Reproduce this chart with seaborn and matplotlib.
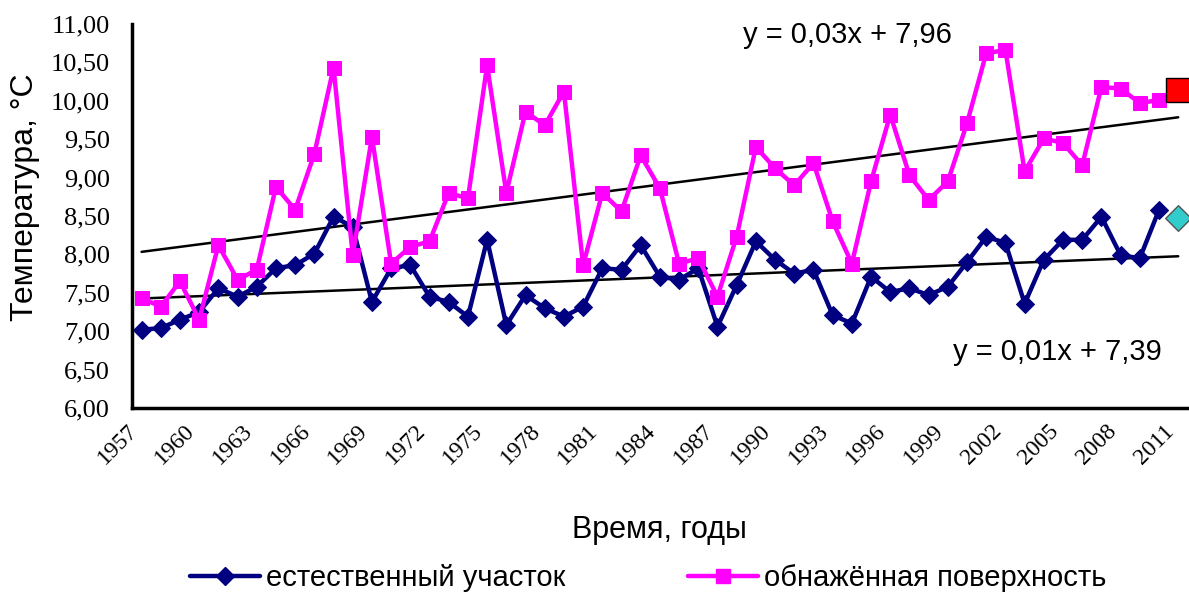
import numpy as np
import pandas as pd
import seaborn as sns
import matplotlib.pyplot as plt
from matplotlib.lines import Line2D

# Data (1957-2010), extra points for 2011
years = list(range(1957, 2011))
natural = [7.02, 7.04, 7.15, 7.25, 7.56, 7.45, 7.58, 7.82, 7.86, 8.01,
           8.49, 8.36, 7.38, 7.82, 7.86, 7.45, 7.38, 7.19, 8.19, 7.08,
           7.47, 7.30, 7.19, 7.32, 7.82, 7.80, 8.12, 7.71, 7.67, 7.82,
           7.06, 7.60, 8.17, 7.93, 7.75, 7.80, 7.21, 7.10, 7.71, 7.51,
           7.56, 7.47, 7.58, 7.90, 8.23, 8.15, 7.36, 7.93, 8.19, 8.19,
           8.49, 7.99, 7.95, 8.58]
bare = [7.43, 7.32, 7.65, 7.15, 8.12, 7.67, 7.80, 8.88, 8.58, 9.31,
        10.43, 7.99, 9.53, 7.88, 8.10, 8.17, 8.80, 8.73, 10.46, 8.80,
        9.86, 9.68, 10.12, 7.86, 8.80, 8.56, 9.29, 8.86, 7.88, 7.95,
        7.45, 8.23, 9.40, 9.12, 8.90, 9.19, 8.43, 7.88, 8.95, 9.82,
        9.03, 8.71, 8.95, 9.71, 10.62, 10.66, 9.08, 9.51, 9.45, 9.16,
        10.18, 10.16, 9.97, 10.01]
last_year = 2011
natural_last = 8.47
bare_last = 10.14

label_natural = 'естественный участок'
label_bare = 'обнажённая поверхность'
eq_bare = 'y = 0,03x + 7,96'
eq_natural = 'y = 0,01x + 7,39'

df = pd.DataFrame({'year': years, 'natural': natural, 'bare': bare})

sns.set_style('white')
plt.rcParams['font.family'] = ['Liberation Sans', 'DejaVu Sans']
plt.rcParams['text.color'] = 'black'
plt.rcParams['xtick.color'] = 'black'
plt.rcParams['ytick.color'] = 'black'
plt.rcParams['axes.labelcolor'] = 'black'

fig = plt.figure(figsize=(11.89, 5.94), dpi=100)
ax = fig.add_axes([0.111, 0.3131, 0.888, 0.6465])

navy = '#000080'
pink = '#FF00FF'

# linear trends over the full period (x = 1..55)
all_years = years + [last_year]
t = np.arange(1, len(all_years) + 1)
for vals in [bare, natural]:
    k, b = np.polyfit(t[:-1], vals, 1)
    sns.lineplot(x=all_years, y=k * t + b, ax=ax, color='black', linewidth=1.8)

sns.lineplot(data=df, x='year', y='natural', ax=ax, color=navy, linewidth=3.2,
             marker='D', markersize=9, markeredgecolor=navy)
sns.lineplot(data=df, x='year', y='bare', ax=ax, color=pink, linewidth=3.2,
             marker='s', markersize=10, markeredgecolor=pink)

sns.scatterplot(x=[last_year], y=[bare_last], ax=ax, marker='s', s=300,
                color='#FF0000', edgecolor='black', linewidth=1, clip_on=False, zorder=5)
sns.scatterplot(x=[last_year], y=[natural_last], ax=ax, marker='D', s=170,
                color='#33CCCC', edgecolor='#555555', linewidth=1, clip_on=False, zorder=5)

ax.set_xlim(1956.5, 2011.5)
ax.set_ylim(6, 11)
ax.set_xlabel('')
ax.set_ylabel('')

yt = np.arange(6, 11.01, 0.5)
ax.set_yticks(yt)
ax.set_yticklabels([f'{v:.2f}'.replace('.', ',') for v in yt],
                   fontfamily='Liberation Serif', fontsize=19)

ax.set_xticks(np.arange(1956.5, 2012, 1))
ax.set_xticklabels([])
lab_years = list(range(1957, 2012, 3))
ax.set_xticks(lab_years, minor=True)
ax.set_xticklabels([str(y) for y in lab_years], minor=True, rotation=45,
                   ha='right', va='top', rotation_mode='default',
                   fontfamily='Liberation Serif', fontsize=17)

ax.tick_params(axis='x', which='major', direction='out', length=6, width=2, color='black')
ax.tick_params(axis='x', which='minor', length=0, pad=9)
ax.tick_params(axis='y', direction='out', length=7, width=2, color='black', pad=9)

for side in ['top', 'right']:
    ax.spines[side].set_visible(False)
for side in ['left', 'bottom']:
    ax.spines[side].set_color('black')
    ax.spines[side].set_linewidth(2.5)

fig.text(0.021, 0.668, 'Температура, °С', rotation=90, ha='center', va='center', fontsize=23)
fig.text(0.555, 0.108, 'Время, годы', ha='center', va='center', fontsize=22)
fig.text(0.713, 0.941, eq_bare, ha='center', va='center', fontsize=21)
fig.text(0.889, 0.407, eq_natural, ha='center', va='center', fontsize=21)

handles = [Line2D([], [], color=navy, linewidth=3.2, marker='D', markersize=9),
           Line2D([], [], color=pink, linewidth=3.2, marker='s', markersize=10)]
fig.legend(handles, [label_natural, label_bare], loc='center', ncol=2,
           bbox_to_anchor=(0.545, 0.027), frameon=False, fontsize=21,
           handlelength=2.4, handletextpad=0.2, columnspacing=4.2)

fig.savefig('out.png', dpi=100)
